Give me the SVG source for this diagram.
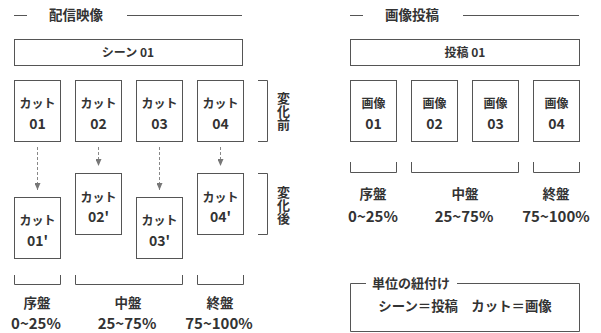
<svg xmlns="http://www.w3.org/2000/svg" width="601" height="333" viewBox="0 0 601 333">
<defs>
<style>
.t{font-family:"Noto Sans CJK JP","Noto Sans",sans-serif;fill:#333;font-weight:bold;text-anchor:middle}
.h{font-size:13.5px}
.b{font-size:12px}
.n{font-size:14px}
.p{font-size:15px}
.v{font-size:13px;writing-mode:vertical-rl}
.box{fill:#fff;stroke:#555;stroke-width:1}
.ln{fill:none;stroke:#555;stroke-width:1}
.da{fill:none;stroke:#888;stroke-width:1;stroke-dasharray:3 2}
</style>
<marker id="ah" markerWidth="8" markerHeight="6" refX="7" refY="3" orient="auto" markerUnits="userSpaceOnUse">
<path d="M0,0 L7,3 L0,6 Z" fill="#777"/>
</marker>
</defs>
<rect width="601" height="333" fill="#fff"/>

<g id="left-title">
<line class="ln" x1="14" y1="15.5" x2="27" y2="15.5"/>
<text class="t h" x="76" y="20">配信映像</text>
<line class="ln" x1="127" y1="15.5" x2="242" y2="15.5"/>
</g>
<g id="scene01"><rect class="box" x="14.5" y="39.5" width="228" height="26"/><text class="t b" x="128" y="56.5">シーン 01</text></g>

<g id="cut01"><rect class="box" x="14.5" y="80.5" width="46" height="61"/><text class="t b" x="37.5" y="108">カット</text><text class="t n" x="37.5" y="129">01</text></g>
<g id="cut02"><rect class="box" x="75.5" y="80.5" width="46" height="61"/><text class="t b" x="98.5" y="108">カット</text><text class="t n" x="98.5" y="129">02</text></g>
<g id="cut03"><rect class="box" x="136.5" y="80.5" width="46" height="61"/><text class="t b" x="159.5" y="108">カット</text><text class="t n" x="159.5" y="129">03</text></g>
<g id="cut04"><rect class="box" x="197.5" y="80.5" width="46" height="61"/><text class="t b" x="220.5" y="108">カット</text><text class="t n" x="220.5" y="129">04</text></g>

<g id="before-label">
<path class="ln" d="M258,80.5 H267.5 V141.5 H258"/>
<text class="t v" x="283.5" y="111">変化前</text>
</g>

<g id="connectors">
<line class="da" x1="37.5" y1="147" x2="37.5" y2="190" marker-end="url(#ah)"/>
<line class="da" x1="98.5" y1="147" x2="98.5" y2="166" marker-end="url(#ah)"/>
<line class="da" x1="159.5" y1="147" x2="159.5" y2="190" marker-end="url(#ah)"/>
<line class="da" x1="220.5" y1="147" x2="220.5" y2="166" marker-end="url(#ah)"/>
</g>

<g id="cut01p"><rect class="box" x="14.5" y="197.5" width="46" height="61"/><text class="t b" x="37.5" y="225">カット</text><text class="t n" x="37.5" y="246">01'</text></g>
<g id="cut02p"><rect class="box" x="75.5" y="173.5" width="46" height="61"/><text class="t b" x="98.5" y="202">カット</text><text class="t n" x="98.5" y="222">02'</text></g>
<g id="cut03p"><rect class="box" x="136.5" y="197.5" width="46" height="61"/><text class="t b" x="159.5" y="225">カット</text><text class="t n" x="159.5" y="246">03'</text></g>
<g id="cut04p"><rect class="box" x="197.5" y="173.5" width="46" height="61"/><text class="t b" x="220.5" y="202">カット</text><text class="t n" x="220.5" y="222">04'</text></g>

<g id="after-label">
<path class="ln" d="M258,173.5 H267.5 V234.5 H258"/>
<text class="t v" x="283.5" y="205">変化後</text>
</g>

<g id="left-phases">
<path class="ln" d="M14.5,275 V284.5 H60.5 V275"/>
<path class="ln" d="M75.5,275 V284.5 H182.5 V275"/>
<path class="ln" d="M197.5,275 V284.5 H243.5 V275"/>
<text class="t h" x="37" y="308">序盤</text>
<text class="t h" x="128" y="308">中盤</text>
<text class="t h" x="220" y="308">終盤</text>
<text class="t p" x="36" y="329">0~25%</text>
<text class="t p" x="127" y="329">25~75%</text>
<text class="t p" x="219" y="329">75~100%</text>
</g>

<g id="right-title">
<line class="ln" x1="350" y1="15.5" x2="363" y2="15.5"/>
<text class="t h" x="412" y="20">画像投稿</text>
<line class="ln" x1="463" y1="15.5" x2="579" y2="15.5"/>
</g>
<g id="post01"><rect class="box" x="350.5" y="39.5" width="229" height="26"/><text class="t b" x="465" y="56.5">投稿 01</text></g>

<g id="img01"><rect class="box" x="350.5" y="80.5" width="46" height="61"/><text class="t b" x="373.5" y="108">画像</text><text class="t n" x="373.5" y="129">01</text></g>
<g id="img02"><rect class="box" x="411.5" y="80.5" width="46" height="61"/><text class="t b" x="434.5" y="108">画像</text><text class="t n" x="434.5" y="129">02</text></g>
<g id="img03"><rect class="box" x="472.5" y="80.5" width="46" height="61"/><text class="t b" x="495.5" y="108">画像</text><text class="t n" x="495.5" y="129">03</text></g>
<g id="img04"><rect class="box" x="533.5" y="80.5" width="46" height="61"/><text class="t b" x="556.5" y="108">画像</text><text class="t n" x="556.5" y="129">04</text></g>

<g id="right-phases">
<path class="ln" d="M350.5,162 V172.5 H396.5 V162"/>
<path class="ln" d="M411.5,162 V172.5 H518.5 V162"/>
<path class="ln" d="M533.5,162 V172.5 H579.5 V162"/>
<text class="t h" x="373" y="199">序盤</text>
<text class="t h" x="465" y="199">中盤</text>
<text class="t h" x="556" y="199">終盤</text>
<text class="t p" x="373" y="222">0~25%</text>
<text class="t p" x="464" y="222">25~75%</text>
<text class="t p" x="556" y="222">75~100%</text>
</g>

<g id="mapping">
<path class="ln" d="M366,283.5 H350.5 V331.5 H579.5 V283.5 H457"/>
<text class="t" style="font-size:13px" x="411" y="288">単位の紐付け</text>
<text class="t" style="font-size:13.4px" x="465" y="311">シーン＝投稿　カット＝画像</text>
</g>
</svg>
